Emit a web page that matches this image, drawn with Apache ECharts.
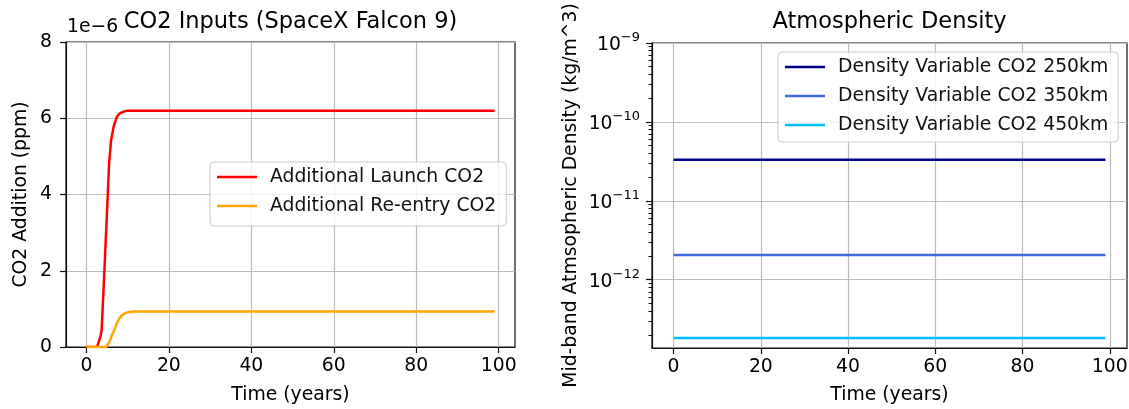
<!DOCTYPE html>
<html><head><meta charset="utf-8">
<script src="https://cdn.jsdelivr.net/npm/echarts@6/dist/echarts.min.js"></script>
<style>html,body{margin:0;padding:0;background:#fff}#c{width:1129px;height:409px}</style>
</head><body><div id="c"></div>
<script>
// ---- data (left chart values in units of 1e-6 ppm) ----
const launchYears = [0, 1, 2, 2.6, 3.4, 3.7, 4.4, 5.0, 5.5, 6.0, 6.6, 7.4, 8.0, 8.9, 10, 15, 20, 30, 40, 50, 60, 70, 80, 90, 99];
const launchCO2   = [0, 0, 0, 0, 0.27, 0.45, 2.1, 3.55, 4.8, 5.43, 5.78, 6.04, 6.12, 6.17, 6.2, 6.2, 6.2, 6.2, 6.2, 6.2, 6.2, 6.2, 6.2, 6.2, 6.2];
const reentryYears = [0, 1, 2, 3, 4, 4.8, 5.6, 6.2, 6.8, 7.4, 8.0, 8.6, 9.3, 10, 11, 12, 15, 20, 30, 40, 50, 60, 70, 80, 90, 99];
const reentryCO2   = [0, 0, 0, 0, 0, 0, 0.14, 0.31, 0.46, 0.62, 0.75, 0.83, 0.88, 0.91, 0.925, 0.93, 0.93, 0.93, 0.93, 0.93, 0.93, 0.93, 0.93, 0.93, 0.93, 0.93];

const densityYears = [0, 10, 20, 30, 40, 50, 60, 70, 80, 90, 99];
const density250 = [3.32e-11, 3.32e-11, 3.32e-11, 3.32e-11, 3.32e-11, 3.32e-11, 3.32e-11, 3.32e-11, 3.32e-11, 3.32e-11, 3.32e-11];
const density350 = [2.05e-12, 2.05e-12, 2.05e-12, 2.05e-12, 2.05e-12, 2.05e-12, 2.05e-12, 2.05e-12, 2.05e-12, 2.05e-12, 2.05e-12];
const density450 = [1.82e-13, 1.82e-13, 1.82e-13, 1.82e-13, 1.82e-13, 1.82e-13, 1.82e-13, 1.82e-13, 1.82e-13, 1.82e-13, 1.82e-13];

// ---- ticks ----
const yearTicks = [0, 20, 40, 60, 80, 100];
const co2Ticks = [0, 2, 4, 6, 8];
const logMajorTicks = [1e-12, 1e-11, 1e-10, 1e-9];
const logMinorTicks = [2e-13, 3e-13, 4e-13, 5e-13, 6e-13, 7e-13, 8e-13, 9e-13,
  2e-12, 3e-12, 4e-12, 5e-12, 6e-12, 7e-12, 8e-12, 9e-12,
  2e-11, 3e-11, 4e-11, 5e-11, 6e-11, 7e-11, 8e-11, 9e-11,
  2e-10, 3e-10, 4e-10, 5e-10, 6e-10, 7e-10, 8e-10, 9e-10];

const FF = 'DejaVu Sans';
const FS = 18.8;
const TFS = 22.5;
const GRID = '#bdbdbd';
const AX = '#111';

const pairs = (xs, ys) => xs.map((x, i) => [x, ys[i]]);

function xAxisCfg(gi) {
  return {
    type: 'value', gridIndex: gi, min: -4.95, max: 103.95,
    axisLine: { show: true, onZero: false, lineStyle: { color: AX, width: 1.2 } },
    axisTick: { show: true, length: 6, customValues: yearTicks, lineStyle: { color: AX, width: 1.2 } },
    axisLabel: { customValues: yearTicks, margin: 10, fontFamily: FF, fontSize: FS, color: '#000' },
    splitLine: { show: true, lineStyle: { color: GRID, width: 1.2 } }
  };
}

const legendCommon = {
  orient: 'vertical', icon: 'rect', itemWidth: 40, itemHeight: 2.6, itemGap: 7,
  backgroundColor: 'rgba(255,255,255,0.8)', borderColor: '#cccccc', borderWidth: 1, borderRadius: 4,
  textStyle: { fontFamily: FF, fontSize: FS, color: '#111', lineHeight: 22, padding: [0, 0, 0, 8] }
};

const chart = echarts.init(document.getElementById('c'), null, { renderer: 'canvas' });
chart.setOption({
  animation: false,
  backgroundColor: '#fff',
  grid: [
    { left: 66, right: 614, top: 42, bottom: 62, show: true, borderColor: AX, borderWidth: 1.2, outerBoundsMode: 'none', containLabel: false },
    { left: 652, right: 2, top: 43, bottom: 61, show: true, borderColor: AX, borderWidth: 1.2, outerBoundsMode: 'none', containLabel: false }
  ],
  xAxis: [xAxisCfg(0), xAxisCfg(1)],
  yAxis: [
    {
      type: 'value', gridIndex: 0, min: 0, max: 8, interval: 2, position: 'left',
      axisLine: { show: true, onZero: false, lineStyle: { color: AX, width: 1.2 } },
      axisTick: { show: true, length: 6, lineStyle: { color: AX, width: 1.2 } },
      axisLabel: { margin: 14, fontFamily: FF, fontSize: FS, color: '#000' },
      splitLine: { show: true, lineStyle: { color: GRID, width: 1.2 } }
    },
    {
      type: 'log', logBase: 10, gridIndex: 1, min: 1.36e-13, max: 1e-9, position: 'left',
      axisLine: { show: true, onZero: false, lineStyle: { color: AX, width: 1.2 } },
      axisTick: { show: true, length: 6, customValues: logMajorTicks, lineStyle: { color: AX, width: 1.2 } },
      axisLabel: {
        customValues: logMajorTicks, margin: 12, fontFamily: FF, color: '#000',
        formatter: function (v) {
          const n = Math.round(Math.log10(v));
          return '{b|10}{s|\u2212' + Math.abs(n) + '}';
        },
        rich: {
          b: { fontFamily: FF, fontSize: FS, color: '#000', lineHeight: 24, verticalAlign: 'bottom' },
          s: { fontFamily: FF, fontSize: 13, color: '#000', lineHeight: 15, verticalAlign: 'top' }
        }
      },
      splitLine: { show: true, lineStyle: { color: GRID, width: 1.2 } }
    },
    {
      type: 'log', logBase: 10, gridIndex: 1, min: 1.36e-13, max: 1e-9, position: 'left',
      axisLine: { show: false, onZero: false },
      axisTick: { show: true, length: 3.5, customValues: logMinorTicks, lineStyle: { color: AX, width: 1 } },
      axisLabel: { show: false },
      splitLine: { show: false }
    }
  ],
  legend: [
    Object.assign({}, legendCommon, { left: 210, top: 162, padding: [4, 10, 9, 7],
      data: ['Additional Launch CO2', 'Additional Re-entry CO2'] }),
    Object.assign({}, legendCommon, { left: 778, top: 52, padding: [4, 10, 6, 7],
      data: ['Density Variable CO2 250km', 'Density Variable CO2 350km', 'Density Variable CO2 450km'] })
  ],
  graphic: [
    { type: 'text', x: 290.5, y: 22.5, style: { text: 'CO2 Inputs (SpaceX Falcon 9)', fontFamily: FF, fontSize: TFS, fill: '#000', textAlign: 'center', textVerticalAlign: 'middle' } },
    { type: 'text', x: 67, y: 27, style: { text: '1e\u22126', fontFamily: FF, fontSize: FS, fill: '#000', textAlign: 'left', textVerticalAlign: 'middle' } },
    { type: 'text', x: 290.5, y: 395, style: { text: 'Time (years)', fontFamily: FF, fontSize: FS, fill: '#000', textAlign: 'center', textVerticalAlign: 'middle' } },
    { type: 'text', x: 21, y: 194.5, rotation: Math.PI / 2, style: { text: 'CO2 Addition (ppm)', fontFamily: FF, fontSize: FS, fill: '#000', textAlign: 'center', textVerticalAlign: 'middle' } },
    { type: 'text', x: 889.5, y: 22.5, style: { text: 'Atmospheric Density', fontFamily: FF, fontSize: TFS, fill: '#000', textAlign: 'center', textVerticalAlign: 'middle' } },
    { type: 'text', x: 889.5, y: 395, style: { text: 'Time (years)', fontFamily: FF, fontSize: FS, fill: '#000', textAlign: 'center', textVerticalAlign: 'middle' } },
    { type: 'text', x: 571, y: 195.5, rotation: Math.PI / 2, style: { text: 'Mid-band Atmsopheric Density (kg/m^3)', fontFamily: FF, fontSize: FS, fill: '#000', textAlign: 'center', textVerticalAlign: 'middle' } }
  ],
  series: [
    { name: 'Additional Launch CO2', type: 'line', xAxisIndex: 0, yAxisIndex: 0, symbol: 'none', color: '#ff0000',
      lineStyle: { width: 2.5, color: '#ff0000' }, data: pairs(launchYears, launchCO2) },
    { name: 'Additional Re-entry CO2', type: 'line', xAxisIndex: 0, yAxisIndex: 0, symbol: 'none', color: '#ffa500',
      lineStyle: { width: 2.5, color: '#ffa500' }, data: pairs(reentryYears, reentryCO2) },
    { name: 'Density Variable CO2 250km', type: 'line', xAxisIndex: 1, yAxisIndex: 1, symbol: 'none', color: '#00008b',
      lineStyle: { width: 2.5, color: '#00008b' }, data: pairs(densityYears, density250) },
    { name: 'Density Variable CO2 350km', type: 'line', xAxisIndex: 1, yAxisIndex: 1, symbol: 'none', color: '#4169e1',
      lineStyle: { width: 2.5, color: '#4169e1' }, data: pairs(densityYears, density350) },
    { name: 'Density Variable CO2 450km', type: 'line', xAxisIndex: 1, yAxisIndex: 1, symbol: 'none', color: '#00bfff',
      lineStyle: { width: 2.5, color: '#00bfff' }, data: pairs(densityYears, density450) }
  ]
});
</script>
</body></html>
